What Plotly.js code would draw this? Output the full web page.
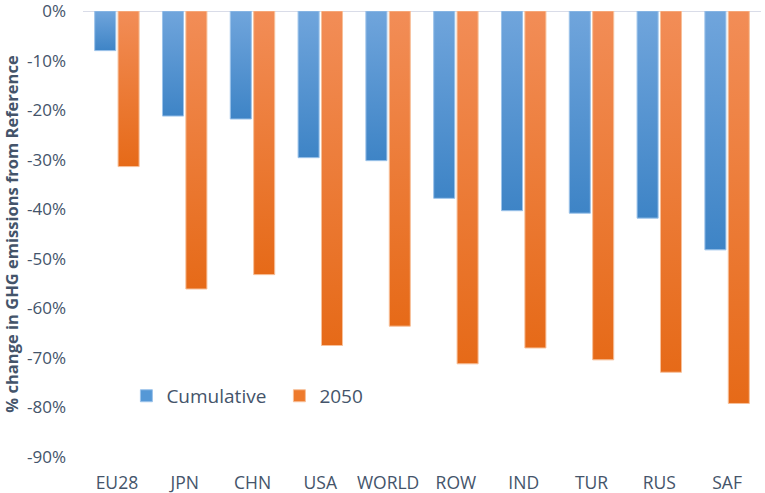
<!DOCTYPE html>
<html>
<head>
<meta charset="utf-8">
<script src="https://cdn.plot.ly/plotly-3.0.1.min.js"></script>
<style>html,body{margin:0;padding:0;background:#fff;}#chart{width:765px;height:493px;}</style>
</head>
<body>
<div id="chart"></div>
<script>
const categories = ["EU28","JPN","CHN","USA","WORLD","ROW","IND","TUR","RUS","SAF"];
const cumulative = [-8.0,-21.2,-21.8,-29.6,-30.2,-37.8,-40.3,-40.8,-41.8,-48.2];
const y2050 = [-31.4,-56.1,-53.2,-67.5,-63.6,-71.2,-68.0,-70.4,-72.9,-79.2];
const yTickVals = [0,-10,-20,-30,-40,-50,-60,-70,-80,-90];
const yTickText = ["0%","-10%","-20%","-30%","-40%","-50%","-60%","-70%","-80%","-90%"];

const textColor = "#44546a";
const traces = [
  {type:"bar", name:"Cumulative", x:categories, y:cumulative,
   marker:{color:"#5598d6", line:{color:"#9cc3ea", width:1}}, hoverinfo:"x+y"},
  {type:"bar", name:"2050", x:categories, y:y2050,
   marker:{color:"#ee7a2c", line:{color:"#f7c09a", width:1}}, hoverinfo:"x+y"}
];
const layout = {
  width:765, height:493,
  margin:{l:83, r:4, t:11, b:36},
  paper_bgcolor:"#fff", plot_bgcolor:"#fff",
  font:{family:"Open Sans, sans-serif", color:textColor},
  barmode:"group", bargap:0.31, bargroupgap:0.1,
  showlegend:true,
  legend:{orientation:"h", x:0.064, y:0.137, xanchor:"left", yanchor:"middle",
          font:{size:19, color:textColor}, bgcolor:"rgba(0,0,0,0)", itemwidth:30,
          entrywidth:108, traceorder:"normal"},
  xaxis:{type:"category", showgrid:false, zeroline:false, showline:false,
         ticks:"", tickfont:{size:17.5, color:textColor}, ticklabelstandoff:13, fixedrange:true},
  yaxis:{range:[-90,0], tickvals:yTickVals, ticktext:yTickText, showgrid:false,
         zeroline:false, showline:false, ticks:"", tickfont:{size:17, color:textColor},
         ticklabelstandoff:16, ticklabeloverflow:"allow",
         title:{text:"<b>% change in GHG emissions from Reference</b>", font:{size:16.5, color:textColor}, standoff:4},
         fixedrange:true},
  shapes:[{type:"line", xref:"paper", yref:"y", x0:0, x1:1, y0:0, y1:0,
           line:{color:"#d9dce8", width:2}, layer:"below"}]
};
Plotly.newPlot("chart", traces, layout, {displayModeBar:false, staticPlot:true}).then(function(gd){
  const svg = gd.querySelector("svg.main-svg");
  const ns = "http://www.w3.org/2000/svg";
  const defs = document.createElementNS(ns, "defs");
  function grad(id, c1, c2){
    const g = document.createElementNS(ns, "linearGradient");
    g.setAttribute("id", id); g.setAttribute("x1","0"); g.setAttribute("y1","0");
    g.setAttribute("x2","0"); g.setAttribute("y2","1");
    [[0,c1],[1,c2]].forEach(function(s){
      const st = document.createElementNS(ns,"stop");
      st.setAttribute("offset", s[0]); st.setAttribute("stop-color", s[1]);
      g.appendChild(st);
    });
    defs.appendChild(g);
  }
  grad("gBlue", "#70a5dc", "#3e84c6");
  grad("gOrange", "#f28d57", "#e66a18");
  svg.insertBefore(defs, svg.firstChild);
  const ids = ["gBlue","gOrange"];
  gd.querySelectorAll(".barlayer .trace").forEach(function(t, i){
    t.querySelectorAll("path").forEach(function(p){ p.style.fill = "url(#" + ids[i] + ")"; });
  });
});
</script>
</body>
</html>
